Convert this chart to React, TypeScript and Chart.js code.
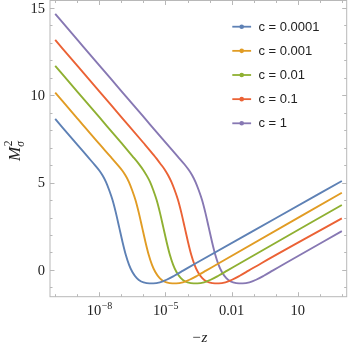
import { useEffect, useRef } from "react";
import { Chart, registerables } from "chart.js";

Chart.register(...registerables);

// Series labels & colours
const seriesLabels = ["c = 0.0001", "c = 0.001", "c = 0.01", "c = 0.1", "c = 1"];
const seriesColors = ["#5E81B5", "#E19C24", "#8FB032", "#EB6235", "#8778B3"];

// x values are log10(-z), y values are M_sigma^2
const blueExp = [-10, -9, -8.5, -8.2, -8.0, -7.85, -7.7, -7.55, -7.4, -7.25, -7.1, -6.95, -6.8, -6.65, -6.5, -6.3, -6.1, -5.85, -5.55, -5.25, -4.95, -4.6, -4.2, -3.6, 0, 3];
const blueVal = [8.64, 7.17, 6.44, 6.0, 5.69, 5.4, 5.04, 4.56, 4.0, 3.28, 2.45, 1.62, 0.87, 0.29, -0.12, -0.47, -0.66, -0.75, -0.77, -0.71, -0.56, -0.33, -0.04, 0.4, 2.96, 5.09];

const orangeExp = [-10, -9, -8, -7.46, -7.16, -6.96, -6.81, -6.66, -6.51, -6.36, -6.21, -6.06, -5.91, -5.76, -5.61, -5.46, -5.26, -5.06, -4.81, -4.51, -4.21, -3.91, -3.56, -3.16, -2.56, 3];
const orangeVal = [10.15, 8.68, 7.21, 6.44, 6.0, 5.69, 5.4, 5.04, 4.56, 4.0, 3.28, 2.45, 1.62, 0.87, 0.29, -0.12, -0.47, -0.66, -0.75, -0.77, -0.71, -0.56, -0.33, -0.04, 0.4, 4.42];

const greenExp = [-10, -9, -8, -7, -6.5, -6.2, -6.0, -5.85, -5.7, -5.55, -5.4, -5.25, -5.1, -4.95, -4.8, -4.65, -4.5, -4.3, -4.1, -3.85, -3.55, -3.25, -2.95, -2.6, -2.2, -1.6, 3];
const greenVal = [11.68, 10.21, 8.74, 7.27, 6.52, 6.06, 5.71, 5.4, 5.04, 4.56, 4.0, 3.28, 2.45, 1.62, 0.87, 0.29, -0.12, -0.47, -0.66, -0.75, -0.77, -0.71, -0.56, -0.33, -0.04, 0.4, 3.72];

const redExp = [-10, -9, -8, -7, -6, -5.53, -5.23, -5.03, -4.88, -4.73, -4.58, -4.43, -4.28, -4.13, -3.98, -3.83, -3.68, -3.53, -3.33, -3.13, -2.88, -2.58, -2.28, -1.98, -1.63, -1.23, -0.63, 3];
const redVal = [13.16, 11.69, 10.22, 8.75, 7.28, 6.57, 6.08, 5.74, 5.42, 5.04, 4.56, 4.0, 3.28, 2.45, 1.62, 0.87, 0.29, -0.12, -0.47, -0.66, -0.75, -0.77, -0.71, -0.56, -0.33, -0.04, 0.4, 2.95];

const purpleExp = [-10, -9, -8, -7, -6, -5, -4.44, -4.14, -3.94, -3.79, -3.64, -3.49, -3.34, -3.19, -3.04, -2.89, -2.74, -2.59, -2.44, -2.24, -2.04, -1.79, -1.49, -1.19, -0.89, -0.54, -0.14, 0.46, 3];
const purpleVal = [14.65, 13.18, 11.71, 10.24, 8.77, 7.3, 6.49, 6.05, 5.72, 5.42, 5.04, 4.56, 4.0, 3.28, 2.45, 1.62, 0.87, 0.29, -0.12, -0.47, -0.66, -0.75, -0.77, -0.71, -0.56, -0.33, -0.04, 0.4, 2.22];

const seriesExps = [blueExp, orangeExp, greenExp, redExp, purpleExp];
const seriesVals = [blueVal, orangeVal, greenVal, redVal, purpleVal];

// Axis ticks
const xMajorExps = [-8, -5, -2, 1];
const xMajorLabels = ["10^−8", "10^−5", "0.01", "10"];
const xMinorExps = [-10, -9, -7, -6, -4, -3, -1, 0, 2, 3];
const yMajorTicks = [0, 5, 10, 15];
const yMajorLabels = ["0", "5", "10", "15"];
const yMinorTicks = [-1, 1, 2, 3, 4, 6, 7, 8, 9, 11, 12, 13, 14];

const X_MIN_EXP = -10.236;
const X_MAX_EXP = 3.22;
const Y_MIN = -1.53;
const Y_MAX = 15.42;

const FRAME = "#b8b8b8";
const TEXT = "#222222";
const SERIF = '"Liberation Serif", "Times New Roman", serif';
const SANS = '"Liberation Sans", Arial, sans-serif';

const decorPlugin = {
  id: "decor",
  afterDatasetsDraw(chart: any) {
    const { ctx, chartArea } = chart;
    const xs = chart.scales.x;
    const ys = chart.scales.y;
    const { left, right, top, bottom } = chartArea;
    ctx.save();

    // frame
    ctx.strokeStyle = FRAME;
    ctx.lineWidth = 1;
    ctx.strokeRect(left, top, right - left, bottom - top);

    // ticks
    const majLen = 4.5;
    const minLen = 2.5;
    ctx.beginPath();
    const xTick = (e: number, len: number) => {
      const px = Math.round(xs.getPixelForValue(Math.pow(10, e))) + 0.5;
      ctx.moveTo(px, bottom);
      ctx.lineTo(px, bottom - len);
      ctx.moveTo(px, top);
      ctx.lineTo(px, top + len);
    };
    const yTick = (v: number, len: number) => {
      const py = Math.round(ys.getPixelForValue(v)) + 0.5;
      ctx.moveTo(left, py);
      ctx.lineTo(left + len, py);
      ctx.moveTo(right, py);
      ctx.lineTo(right - len, py);
    };
    xMajorExps.forEach((e) => xTick(e, majLen));
    xMinorExps.forEach((e) => xTick(e, minLen));
    yMajorTicks.forEach((v) => yTick(v, majLen));
    yMinorTicks.forEach((v) => yTick(v, minLen));
    ctx.stroke();

    // x tick labels
    ctx.fillStyle = TEXT;
    ctx.textBaseline = "alphabetic";
    const baseFont = `14.5px ${SERIF}`;
    const supFont = `10px ${SERIF}`;
    xMajorExps.forEach((e, i) => {
      const cx = xs.getPixelForValue(Math.pow(10, e));
      const lab = xMajorLabels[i];
      const parts = lab.split("^");
      const base = parts[0];
      const sup = parts[1] || "";
      ctx.font = baseFont;
      const w1 = ctx.measureText(base).width;
      ctx.font = supFont;
      const w2 = sup ? ctx.measureText(sup).width : 0;
      const x0 = cx - (w1 + w2) / 2;
      ctx.textAlign = "left";
      ctx.font = baseFont;
      ctx.fillText(base, x0, bottom + 18.5);
      if (sup) {
        ctx.font = supFont;
        ctx.fillText(sup, x0 + w1 + 0.5, bottom + 12);
      }
    });

    // y tick labels
    ctx.font = baseFont;
    ctx.textAlign = "right";
    ctx.textBaseline = "middle";
    yMajorTicks.forEach((v, i) => {
      ctx.fillText(yMajorLabels[i], left - 5, ys.getPixelForValue(v) + 1);
    });

    // x title
    ctx.font = `italic 15px ${SERIF}`;
    ctx.textAlign = "center";
    ctx.textBaseline = "alphabetic";
    ctx.fillText("−z", (left + right) / 2 + 1, bottom + 45.5);

    // y title  M_σ^2 rotated
    ctx.save();
    ctx.translate(left - 30, (top + bottom) / 2 + 2);
    ctx.rotate(-Math.PI / 2);
    ctx.font = `italic 17px ${SERIF}`;
    const mW = ctx.measureText("M").width;
    ctx.font = `italic 11.5px ${SERIF}`;
    const sW = ctx.measureText("σ").width;
    const total = mW + sW + 1;
    const sx = -total / 2;
    ctx.textAlign = "left";
    ctx.font = `italic 17px ${SERIF}`;
    ctx.fillText("M", sx, 0);
    ctx.font = `11.5px ${SERIF}`;
    ctx.fillText("2", sx + mW + 0.5, -8);
    ctx.font = `italic 11.5px ${SERIF}`;
    ctx.fillText("σ", sx + mW, 4);
    ctx.restore();

    // legend
    const lx0 = right - 114.4;
    const lx1 = lx0 + 18.8;
    const ly0 = top + 26.2;
    const step = 24.15;
    ctx.font = `13px ${SANS}`;
    ctx.textAlign = "left";
    ctx.textBaseline = "middle";
    seriesLabels.forEach((lab, i) => {
      const y = ly0 + i * step;
      ctx.strokeStyle = seriesColors[i];
      ctx.lineWidth = 1.8;
      ctx.beginPath();
      ctx.moveTo(lx0, y);
      ctx.lineTo(lx1, y);
      ctx.stroke();
      ctx.fillStyle = seriesColors[i];
      ctx.beginPath();
      ctx.arc((lx0 + lx1) / 2, y, 2.3, 0, Math.PI * 2);
      ctx.fill();
      ctx.fillStyle = TEXT;
      ctx.fillText(lab, lx1 + 7.3, y + 0.5);
    });

    ctx.restore();
  },
};

export default function App() {
  const canvasRef = useRef<HTMLCanvasElement | null>(null);

  useEffect(() => {
    const canvas = canvasRef.current;
    if (!canvas) return;
    const datasets = seriesLabels.map((label, i) => ({
      label,
      data: seriesExps[i].map((e, j) => ({ x: Math.pow(10, e), y: seriesVals[i][j] })),
      borderColor: seriesColors[i],
      backgroundColor: seriesColors[i],
      borderWidth: 1.9,
      pointRadius: 0,
      pointHoverRadius: 0,
      fill: false,
      cubicInterpolationMode: "monotone" as const,
    }));
    const chart = new Chart(canvas, {
      type: "line",
      data: { datasets },
      options: {
        responsive: false,
        animation: false,
        devicePixelRatio: 1,
        layout: { padding: { left: 50, right: 2.3, top: 0.5, bottom: 47.3 } },
        plugins: { legend: { display: false }, tooltip: { enabled: false } },
        scales: {
          x: {
            type: "logarithmic",
            display: false,
            bounds: "data",
            min: Math.pow(10, X_MIN_EXP),
            max: Math.pow(10, X_MAX_EXP),
          },
          y: {
            type: "linear",
            display: false,
            bounds: "data",
            min: Y_MIN,
            max: Y_MAX,
          },
        },
      },
      plugins: [decorPlugin],
    });
    return () => chart.destroy();
  }, []);

  return (
    <div style={{ position: "fixed", left: 0, top: 0, width: 349, height: 344, background: "#fff" }}>
      <canvas ref={canvasRef} width={349} height={344} style={{ display: "block" }} />
    </div>
  );
}
